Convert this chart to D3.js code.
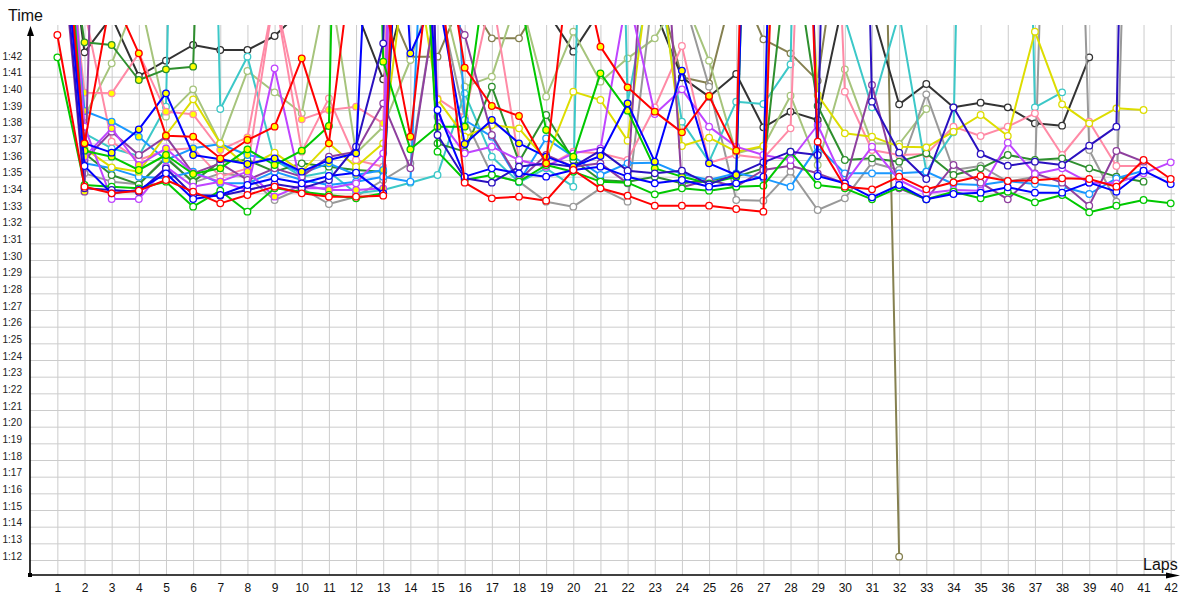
<!DOCTYPE html>
<html><head><meta charset="utf-8">
<script src="https://cdn.jsdelivr.net/npm/d3@7"></script>
<style>body{margin:0;background:#fff;} svg{display:block;font-family:"Liberation Sans",Arial,sans-serif;}</style>
</head><body><svg id="c" width="1200" height="600"></svg>
<script>
// ---- data (lap times in seconds, index 0 = lap 1) ----
const laps = d3.range(1, 43);
const timeTicks = d3.range(72, 103);

const RED_A = [103.5,94.4,94.0,94.16,94.8,94.1,93.4,93.9,94.4,94.0,93.8,93.8,93.86,130,108,94.64,93.7,93.8,93.56,95.4,94.3,93.86,93.26,93.26,93.26,93.06,92.9,140,97.1,94.4,94.24,95.0,94.24,94.66,95.04,94.74,94.78,94.9,94.86,94.4,96.0,94.86];
const RED_B = [115,97.0,106,102.4,97.46,97.4,96.1,97.2,98.0,102.1,97.0,110,106,97.4,112,101.54,99.24,98.64,95.8,110,102.8,100.36,98.9,97.66,99.84,96.56,160];
const BLACK = [115,102.46,104.6,101.04,101.96,102.9,102.6,102.6,103.44,105,106,105,100.84,107,108,107,106,106,105,102.5,105,106,105,100.96,99.8,101.16,97.96,98.9,98.4,106,105,99.34,100.56,99.16,99.44,99.16,98.2,98.06,102.16];
const OLIVE = [118,112,110,108,109,108,107,108,107,106,107,106,106,102.2,102.2,106,103.3,103.3,106,107,106,106,107,100.96,100.6,107,103.24,102.4,100.76,112,148.7,72.2];
const YELLOW = [116,96.7,95.56,95.3,97.5,99.64,97.0,95.6,96.44,95.3,97.0,95.6,97.0,110,99.64,97.4,98.1,97.9,96.0,100.1,99.6,97.16,110,96.84,97.34,96.5,96.84,130,99.9,97.6,97.4,96.8,96.76,97.7,98.7,97.44,103.7,99.34,98.2,99.1,99.0];
const CYAN = [120,97.6,96.7,96.24,99.2,170,99.06,102.2,96.0,95.0,95.3,94.0,94.2,94.64,95.1,100.0,96.2,94.66,95.5,94.4,170,99.4,108.3,98.3,95.9,99.5,99.36,101.74,170,104.5,99.16,104.8,95.3,97.66,170,170,99.16,100.06];
const LBLUE_A = [119,95.8,95.5,95.0,94.9,95.3,94.6,94.6,95.3,94.8,94.5,94.7,95.0,94.7,130,98.4,97.4,94.7,97.3,96.2,95.1,95.8,95.84,95.16,94.8,95.2,94.9,94.4,96.8,95.2,95.2,95.2,95.3,94.56,94.5,94.74,94.56,94.4,93.96,94.9,95.36];
const LBLUE_B = [117,98.94,98.3,97.4,96.0,96.7,96.96,96.3,96.0,95.2,95.8,95.1,95.4,150];
const GREEN_A = [102.16,94.5,94.4,94.3,94.7,93.2,94.16,92.9,94.3,94.1,93.9,93.7,94.0,125,96.5,94.8,95.1,94.7,95.7,95.3,94.7,94.64,93.94,94.3,94.16,94.4,94.46,96.5,94.5,94.3,93.64,94.36,93.64,94.1,93.7,94.1,93.46,93.9,92.86,93.26,93.6,93.4];
const GREEN_B = [118,96.56,96.2,95.4,96.3,95.16,95.5,96.64,95.7,96.56,98.04,170,101.9,96.64,98.0,98.0,110,106,97.8,96.2,101.2,98.96,95.5,95.0,94.6,95.0,150];
const DKGREEN_A = [117,96.4,95.1,94.54,96.1,94.7,95.9,96.0,95.3,95.8,95.6,95.4,95.3,125,97.0,96.5,100.4,95.9,98.7,96.0,94.8,94.7,95.0,94.6,94.8,95.0,95.5,110,99.24,96.0,96.1,95.9,96.4,95.1,95.5,96.3,96.0,96.1,95.5,95.0,94.7];
const DKGREEN_B = [114,103.06,102.9,100.8,101.44,101.6,150];
const PINK_A = [119,105,97.1,96.0,96.6,96.7,95.0,95.5,106,96.5,99.7,96.0,95.6,130,99.7,98.6,106,96.0,95.6,96.5,96.4,96.0,99.16,102.84,95.84,96.3,96.1,97.9,140,100.1,96.6,96.3,96.36,98.0,97.44,98.0,98.8,96.3,98.3,95.64,95.64];
const PINK_B = [115,100.04,100.0,102.4,98.9,98.74,96.6,97.36,106,98.44,99.0,99.2,98.2,150];
const VIOLET_A = [120,98.0,93.66,93.66,95.6,94.4,94.7,94.2,101.5,94.3,94.3,94.6,96.4,150,98.6,96.4,96.8,96.0,95.6,96.4,96.7,106,98.76,100.24,98.0,96.8,96.3,96.0,98.1,94.6,96.8,94.8,94.0,94.2,94.16,97.04,95.16,95.5,94.64,94.6,95.2,95.86];
const VIOLET_B = [114,96.2,97.9,95.7,96.7,95.2,94.7,95.3,93.8,94.5,94.2,94.2,94.3,150];
const PURPLE_A = [117,96.0,97.7,96.3,97.4,95.2,95.8,94.8,95.5,95.0,96.2,96.5,99.4,95.5,106,103.5,97.5,94.8,96.3,95.6,95.8,94.6,120,94.36,94.8,94.4,95.4,95.66,95.2,94.6,100.5,94.3,93.64,95.7,94.64,93.64,95.2,94.64,93.26,96.54,95.9];
const PURPLE_B = [112,94.1,150];
const GREY = [116,95.2,94.7,94.54,96.2,94.64,95.2,95.0,93.6,94.3,93.36,93.8,94.8,95.8,106,98.5,95.1,94.7,93.5,93.2,94.3,93.5,107,106,100.4,93.6,93.56,95.3,93.0,93.7,95.84,95.4,99.94,95.4,95.64,94.7,95.0,150,96.6,93.5,150];
const NAVY = [113,94.3,94.2,94.1,95.5,93.9,93.86,94.2,94.56,94.3,94.8,96.8,103.0,160,97.5,94.9,94.64,95.6,95.8,95.6,96.56,95.36,95.2,95.36,94.54,95.14,95.86,96.5,96.3,170,99.5,96.44,94.86,99.16,96.36,95.66,95.9,95.7,96.86,98.0,170];
const BLUE_A = [114,95.64,94.0,94.2,95.2,93.66,93.9,94.5,94.9,94.6,95.04,95.24,94.0,125,99.0,95.0,95.5,95.2,95.0,95.4,95.6,95.0,94.6,94.8,94.4,94.6,95.0,160,95.04,94.6,93.76,94.5,93.64,93.96,94.04,94.36,94.04,94.04,94.64,94.1,95.36,94.56];
const BLUE_B = [113,97.0,96.44,97.84,100.0,96.3,96.04,95.76,96.1,95.3,96.0,96.4,130,102.4,106,96.96,98.4,97.0,96.2,95.6,96.24,99.4,95.9,101.36,95.8,95.1,150];
const LOLIVE = [121,98.6,101.8,106,98.6,100.24,97.0,101.34,100.06,98.8,107,96.4,98.0,102.0,107,100.4,101.0,106,99.8,103.7,100.7,102.1,103.3,106,101.96,96.4,96.8,99.86,95.7,101.44,97.0,96.96,99.06];

// ---- styles (separate from data) ----
const YEL = "#ffff00", WHT = "#ffffff";
const seriesDefs = [
  [OLIVE, "#858050", WHT], [BLACK, "#333333", WHT], [LOLIVE, "#a6c47c", WHT],
  [GREY, "#999999", WHT], [CYAN, "#3cc8c8", WHT], [PINK_A, "#ff8aa6", WHT],
  [PINK_B, "#ff8aa6", YEL], [DKGREEN_A, "#2e8f2e", WHT], [DKGREEN_B, "#2e8f2e", YEL],
  [LBLUE_A, "#1a98ff", WHT], [LBLUE_B, "#1a98ff", YEL], [YELLOW, "#dddd00", WHT],
  [PURPLE_A, "#8e3f9e", WHT], [PURPLE_B, "#8e3f9e", YEL], [VIOLET_A, "#bf44ff", WHT],
  [VIOLET_B, "#bf44ff", YEL], [GREEN_A, "#00c800", WHT], [GREEN_B, "#00c800", YEL],
  [NAVY, "#2a10c0", WHT], [BLUE_A, "#0000ff", WHT], [BLUE_B, "#0000ff", YEL],
  [RED_A, "#ff0000", WHT], [RED_B, "#ff0000", YEL]
];

// ---- chart ----
const svg = d3.select("#c");
const X0 = 30, XR = 1175, YT = 25, YB = 575;
const x = d3.scaleLinear().domain([0, 42]).range([30.2, 1170.7]);
const y = d3.scaleLinear().domain([72, 102]).range([560, 60]);

// grid
const gx = svg.append("g").attr("transform", `translate(0,${YB})`)
  .call(d3.axisBottom(x).tickValues(laps).tickSize(-(YB - YT)).tickFormat(""));
const gy = svg.append("g").attr("transform", `translate(${X0},0)`)
  .call(d3.axisLeft(y).tickValues(timeTicks).tickSize(-(XR - X0)).tickFormat(""));
[gx, gy].forEach(g => {
  g.select(".domain").remove();
  g.selectAll("line").attr("stroke", "#cccccc").attr("stroke-width", 1);
});

// clip
svg.append("defs").append("clipPath").attr("id", "plot")
  .append("rect").attr("x", X0).attr("y", YT).attr("width", XR - X0).attr("height", YB - YT);

const plot = svg.append("g").attr("clip-path", "url(#plot)");
const line = d3.line().x((d, i) => x(i + 1)).y(d => y(d));

seriesDefs.forEach(([vals, col, fill]) => {
  const g = plot.append("g");
  g.append("path").attr("d", line(vals)).attr("fill", "none")
    .attr("stroke", col).attr("stroke-width", 2).attr("stroke-linejoin", "round");
  g.selectAll("circle").data(vals.map((v, i) => ({v, lap: i + 1})).filter(d => d.v < 104.5))
    .enter().append("circle")
    .attr("cx", d => x(d.lap)).attr("cy", d => y(d.v)).attr("r", 3.3)
    .attr("fill", fill).attr("stroke", col).attr("stroke-width", 1.3);
});

// axes
const ax = svg.append("g");
ax.append("line").attr("x1", X0).attr("y1", YB).attr("x2", 1170).attr("y2", YB).attr("stroke", "#000").attr("stroke-width", 1.6);
ax.append("line").attr("x1", X0).attr("y1", YB).attr("x2", X0).attr("y2", 34).attr("stroke", "#000").attr("stroke-width", 1.6);
ax.append("path").attr("d", "M30.5,26 L27,36 L34,36 Z").attr("fill", "#000");
ax.append("path").attr("d", "M1180,575.5 L1166,572.5 L1166,578.5 Z").attr("fill", "#000");
ax.append("rect").attr("x", 28).attr("y", 573).attr("width", 4).attr("height", 4).attr("fill", "#000");

// tick labels
const yl = svg.append("g").attr("transform", `translate(${X0},0)`)
  .call(d3.axisLeft(y).tickValues(timeTicks).tickSize(0).tickPadding(8)
    .tickFormat(d => `1:${String(d - 60).padStart(2, "0")}`));
yl.select(".domain").remove();
yl.selectAll("text").attr("font-size", 10).attr("fill", "#222")
  .attr("font-family", "Liberation Sans, Arial, sans-serif").attr("y", -4);

const xl = svg.append("g").attr("transform", `translate(0,${YB})`)
  .call(d3.axisBottom(x).tickValues(laps).tickSize(0).tickPadding(8));
xl.select(".domain").remove();
xl.selectAll("text").attr("font-size", 12).attr("fill", "#111")
  .attr("font-family", "Liberation Sans, Arial, sans-serif");

svg.append("text").attr("x", 8).attr("y", 21).attr("font-size", 16).attr("fill", "#111").text("Time");
svg.append("text").attr("x", 1143).attr("y", 570).attr("font-size", 16).attr("fill", "#111").text("Laps");
</script></body></html>
